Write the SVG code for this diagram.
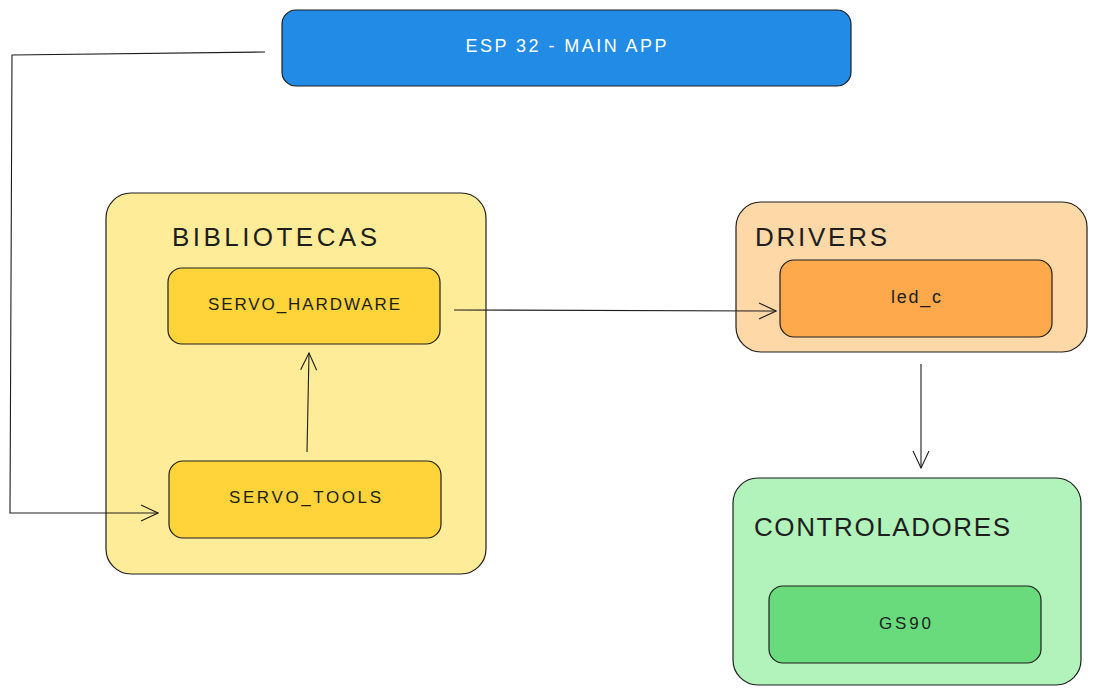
<svg xmlns="http://www.w3.org/2000/svg" width="1096" height="694" viewBox="0 0 1096 694">
<defs>
<style>
.box{stroke:#1e1e1e;stroke-width:1.2}
.t{font-family:"Liberation Sans",Arial,sans-serif;fill:#1e1e1e;text-anchor:middle;dominant-baseline:central}
.title{font-family:"Liberation Sans",Arial,sans-serif;fill:#1e1e1e;font-size:26px}
.c{fill:none;stroke:#1e1e1e;stroke-width:1.1}
</style>
<marker id="arr" viewBox="0 0 20 20" refX="19" refY="10" markerWidth="20" markerHeight="20" markerUnits="userSpaceOnUse" orient="auto">
<path d="M2,2 L19,10 L2,18" fill="none" stroke="#1e1e1e" stroke-width="1.1"/>
</marker>
</defs>
<rect width="1096" height="694" fill="#ffffff"/>
<g id="main-app">
<rect class="box" x="282" y="10" width="569" height="76" rx="14" fill="#228be6"/>
<text class="t" x="566" y="46" font-size="18" style="fill:#ffffff" textLength="201" lengthAdjust="spacing">ESP 32 - MAIN APP</text>
</g>
<g id="bibliotecas">
<rect class="box" x="106" y="193" width="380" height="381" rx="25" fill="#ffec99"/>
<text class="title" x="172" y="246" textLength="205" lengthAdjust="spacing">BIBLIOTECAS</text>
</g>
<g id="servo-hardware">
<rect class="box" x="168" y="268" width="272" height="76" rx="14" fill="#ffd43b"/>
<text class="t" x="304" y="304" font-size="17" textLength="192" lengthAdjust="spacing">SERVO_HARDWARE</text>
</g>
<g id="servo-tools">
<rect class="box" x="169" y="461" width="272" height="77" rx="14" fill="#ffd43b"/>
<text class="t" x="305" y="497" font-size="17" textLength="152" lengthAdjust="spacing">SERVO_TOOLS</text>
</g>
<g id="drivers">
<rect class="box" x="736" y="202" width="351" height="150" rx="25" fill="#ffd8a8"/>
<text class="title" x="755" y="246" textLength="132" lengthAdjust="spacing">DRIVERS</text>
</g>
<g id="led-c">
<rect class="box" x="780" y="260" width="272" height="77" rx="14" fill="#ffa94d"/>
<text class="t" x="916" y="297" font-size="18" textLength="50" lengthAdjust="spacing">led_c</text>
</g>
<g id="controladores">
<rect class="box" x="733" y="478" width="348" height="207" rx="25" fill="#b2f2bb"/>
<text class="title" x="754" y="536" textLength="256" lengthAdjust="spacing">CONTROLADORES</text>
</g>
<g id="gs90">
<rect class="box" x="769" y="586" width="272" height="77" rx="14" fill="#69db7c"/>
<text class="t" x="905" y="623" font-size="17" textLength="52" lengthAdjust="spacing">GS90</text>
</g>
<g id="connectors">
<path class="c" d="M265,52 L12,55 L10,513 L158,513" marker-end="url(#arr)"/>
<path class="c" d="M307,452 L309,353" marker-end="url(#arr)"/>
<path class="c" d="M454,310 L776,311" marker-end="url(#arr)"/>
<path class="c" d="M921,364 L921,468" marker-end="url(#arr)"/>
</g>
</svg>
